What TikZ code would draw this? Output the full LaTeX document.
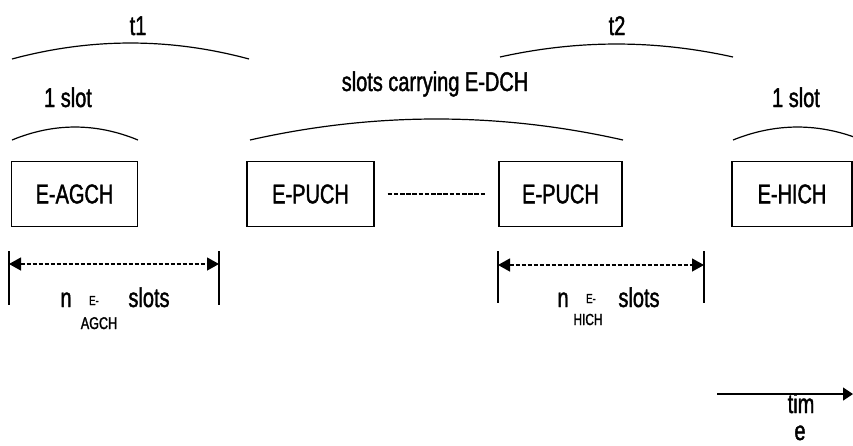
\documentclass[tikz,border=0pt]{standalone}
\usepackage{fontspec}
\setmainfont{Liberation Sans}[FakeStretch=0.74,FakeBold=1.5]
\usetikzlibrary{arrows.meta}
\begin{document}
\begin{tikzpicture}[x=1pt,y=-1pt,
  chanbox/.style={draw,line width=1.2pt,minimum width=#1,minimum height=65pt,inner sep=0pt,font=\fontsize{27}{27}\selectfont},
  lbl/.style={inner sep=0pt,anchor=base,font=\fontsize{27}{27}\selectfont},
  sublbl/.style={inner sep=0pt,anchor=base,font=\fontsize{#1}{#1}\selectfont},
  arcline/.style={line width=1.2pt},
  tick/.style={line width=1.1pt},
  dimarrow/.style={line width=1.3pt,dash pattern=on 4pt off 2pt,{Triangle[length=12pt,width=13pt]}-{Triangle[length=12pt,width=13pt]}},
  gapline/.style={line width=2pt,dash pattern=on 4.5pt off 1.7pt}
]
\useasboundingbox (0,0) rectangle (853,445);
% boxes
\node[chanbox=126pt] (agch) at (74.5,194) {E-AGCH};
\node[chanbox=127pt] (puch1) at (310.5,194) {E-PUCH};
\node[chanbox=123pt] (puch2) at (560.5,194) {E-PUCH};
\node[chanbox=120pt] (hich) at (792,194) {E-HICH};
\draw[gapline,shorten <=13pt,shorten >=13pt] (puch1) -- (puch2);
% arcs
\draw[arcline] (12,59) .. controls (91,37.7) and (170,37.7) .. (249,59);
\draw[arcline] (500,57) .. controls (578,39.7) and (655,39.7) .. (733,57);
\draw[arcline] (12,140) .. controls (54,122.7) and (96,122.7) .. (138,140);
\draw[arcline] (250,140) .. controls (374,112) and (499,112) .. (623,140);
\draw[arcline] (733,140) .. controls (776,122.7) and (819,122.7) .. (862,140);
\node[lbl] (t1) at (138,35) {t1};
\node[lbl] (t2) at (617,35) {t2};
\node[lbl] (s1) at (68,107) {1 slot};
\node[lbl] (sdch) at (435,91) {slots carrying E-DCH};
\node[lbl] (s2) at (796,107) {1 slot};
% left dimension
\coordinate (la) at (9,251);
\coordinate (lb) at (219,251);
\draw[tick] (la) -- ++(0,54);
\draw[tick] (lb) -- ++(0,54);
\draw[dimarrow] ([yshift=-13pt]la) -- ([yshift=-13pt]lb);
\node[lbl] (n1) at (66,307) {n};
\node[sublbl=13] (e1) at (94,305) {E-};
\node[sublbl=17] (agchs) at (99,329) {AGCH};
\node[lbl] (sl1) at (149,307) {slots};
% right dimension
\coordinate (ra) at (498,251);
\coordinate (rb) at (704,251);
\draw[tick] (ra) -- ++(0,52);
\draw[tick] (rb) -- ++(0,52);
\draw[dimarrow] ([yshift=-14pt]ra) -- ([yshift=-14pt]rb);
\node[lbl] (n2) at (563,307) {n};
\node[sublbl=13] (e2) at (591,303) {E-};
\node[sublbl=16] (hichs) at (588,325) {HICH};
\node[lbl] (sl2) at (639,307) {slots};
% time arrow
\coordinate (ta) at (717,394);
\coordinate (tb) at (853,394);
\draw[line width=1.2pt,-{Triangle[length=10pt,width=13pt]}] (ta) -- (tb);
\node[lbl] (tim) at (801,413) {tim};
\node[lbl] (te) at (800,440) {e};
\end{tikzpicture}
\end{document}
